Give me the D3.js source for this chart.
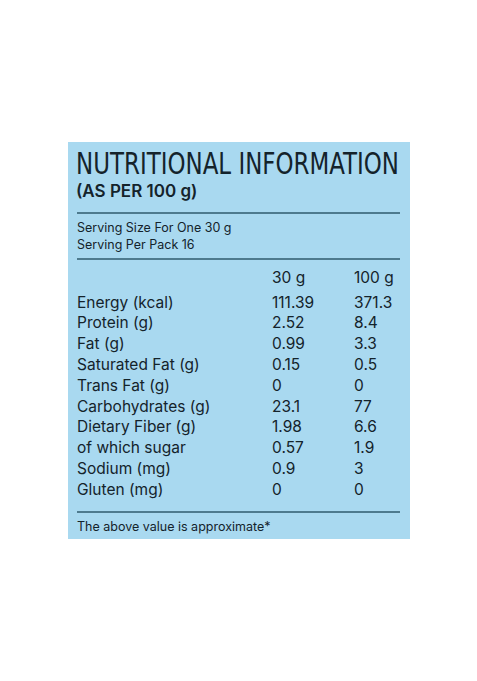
<!DOCTYPE html>
<html><head><meta charset="utf-8">
<script src="https://cdn.jsdelivr.net/npm/d3@7"></script>
<style>body{margin:0;background:#fff}</style></head>
<body><svg id="c" width="477" height="681"></svg>
<script>
const nutrients = ["Energy (kcal)", "Protein (g)", "Fat (g)", "Saturated Fat (g)", "Trans Fat (g)",
  "Carbohydrates (g)", "Dietary Fiber (g)", "of which sugar", "Sodium (mg)", "Gluten (mg)"];
const perServing = ["111.39", "2.52", "0.99", "0.15", "0", "23.1", "1.98", "0.57", "0.9", "0"];
const per100 = ["371.3", "8.4", "3.3", "0.5", "0", "77", "6.6", "1.9", "3", "0"];
const columns = ["30 g", "100 g"];

const svg = d3.select("#c");
const ink = "#14232b", rule = "#2f5a6e";
const font = "Inter, 'Noto Sans', sans-serif";

svg.append("rect").attr("x", 68).attr("y", 142).attr("width", 342).attr("height", 397).attr("fill", "#a9d9f0");

svg.append("text").attr("x", 76).attr("y", 174).attr("font-family", "'Liberation Sans Narrow', 'DejaVu Sans Condensed', sans-serif")
  .attr("font-size", 30).attr("fill", ink).attr("textLength", 323).attr("lengthAdjust", "spacingAndGlyphs")
  .text("NUTRITIONAL INFORMATION");
svg.append("text").attr("x", 76).attr("y", 197).attr("font-family", font).attr("font-weight", 600)
  .attr("font-size", 17).attr("fill", ink).text("(AS PER 100 g)");

[213, 259, 512].forEach(y => svg.append("line").attr("x1", 77).attr("x2", 400).attr("y1", y).attr("y2", y)
  .attr("stroke", rule).attr("stroke-width", 1.3));

svg.append("text").attr("x", 77).attr("y", 232).attr("font-family", font).attr("font-size", 12.5).attr("fill", ink).text("Serving Size For One 30 g");
svg.append("text").attr("x", 77).attr("y", 249).attr("font-family", font).attr("font-size", 12.5).attr("fill", ink).text("Serving Per Pack 16");

const y = d3.scaleBand().domain(nutrients).range([292, 500]);
const x = d3.scaleOrdinal().domain(columns).range([272, 354]);

const head = svg.append("g");
head.selectAll("text").data(columns).enter().append("text")
  .attr("x", d => x(d)).attr("y", 283).attr("font-family", font).attr("font-size", 15.5).attr("fill", ink).text(d => d);

const rows = svg.append("g").attr("font-family", font).attr("font-size", 15.5).attr("fill", ink);
const row = rows.selectAll("g").data(nutrients).enter().append("g")
  .attr("transform", d => "translate(0," + (y(d) + y.bandwidth() * 0.75) + ")");
row.append("text").attr("x", 77).text(d => d);
row.append("text").attr("x", x(columns[0])).text((d, i) => perServing[i]);
row.append("text").attr("x", x(columns[1])).text((d, i) => per100[i]);

svg.append("text").attr("x", 77).attr("y", 531).attr("font-family", font).attr("font-size", 12.5).attr("fill", ink).text("The above value is approximate*");
</script></body></html>
